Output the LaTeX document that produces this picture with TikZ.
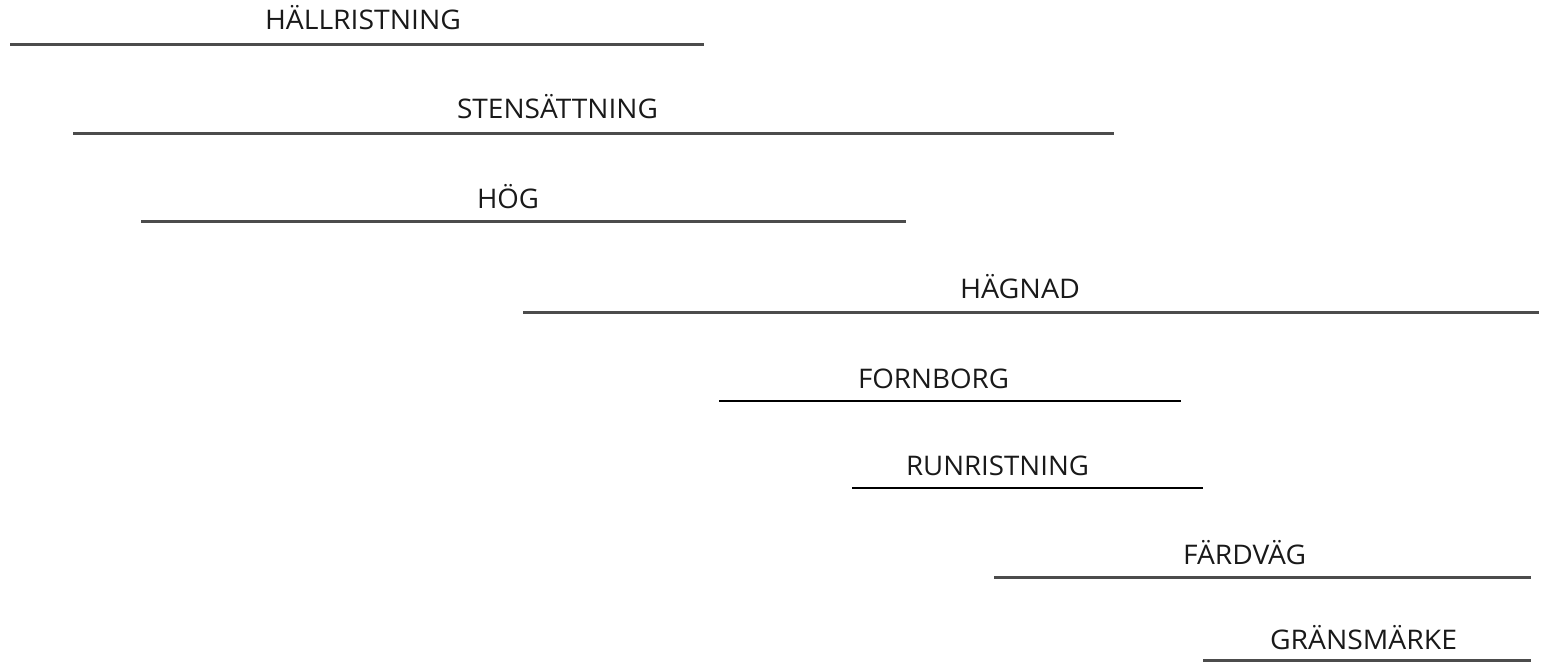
\documentclass[tikz,border=0pt]{standalone}
\usepackage{fontspec}
\setmainfont{Open Sans}
\newlength\fitlen
\newcommand\fitw[2]{\settowidth{\fitlen}{#2}\scalebox{\fpeval{#1/\fitlen}}[1]{#2}}
\begin{document}
\begin{tikzpicture}[x=1pt,y=-1pt,
  lbl/.style={anchor=base,inner sep=0pt,font=\fontsize{27}{30}\selectfont,text=black!90},
  bar/.style={line width=3pt,draw=black!70},
  barb/.style={line width=2.8pt,draw=black}]
\useasboundingbox (0,0) rectangle (1547,664);
% labels
\node[lbl] (t1) at (363,29) {\fitw{196}{HÄLLRISTNING}};
\node[lbl] (t2) at (557.5,118) {\fitw{201}{STENSÄTTNING}};
\node[lbl] (t3) at (508,208) {\fitw{62}{HÖG}};
\node[lbl] (t4) at (1020,298) {\fitw{120}{HÄGNAD}};
\node[lbl] (t5) at (933.5,388) {\fitw{151}{FORNBORG}};
\node[lbl] (t6) at (997.5,475) {\fitw{183}{RUNRISTNING}};
\node[lbl] (t7) at (1244.5,564) {\fitw{123}{FÄRDVÄG}};
\node[lbl] (t8) at (1363.5,649) {\fitw{187}{GRÄNSMÄRKE}};
% line ends
\coordinate (a1) at (10,44);   \coordinate (b1) at (704,44);
\coordinate (a2) at (73,133);  \coordinate (b2) at (1114,133);
\coordinate (a3) at (141,221); \coordinate (b3) at (906,221);
\coordinate (a4) at (523,312); \coordinate (b4) at (1539,312);
\coordinate (a5) at (719,401); \coordinate (b5) at (1181,401);
\coordinate (a6) at (852,488); \coordinate (b6) at (1203,488);
\coordinate (a7) at (994,577); \coordinate (b7) at (1531,577);
\coordinate (a8) at (1203,660); \coordinate (b8) at (1531,660);
\draw[bar] (a1) -- (b1);
\draw[bar] (a2) -- (b2);
\draw[bar] (a3) -- (b3);
\draw[bar] (a4) -- (b4);
\draw[barb] (a5) -- (b5);
\draw[barb] (a6) -- (b6);
\draw[bar] (a7) -- (b7);
\draw[bar] (a8) -- (b8);
\end{tikzpicture}
\end{document}
